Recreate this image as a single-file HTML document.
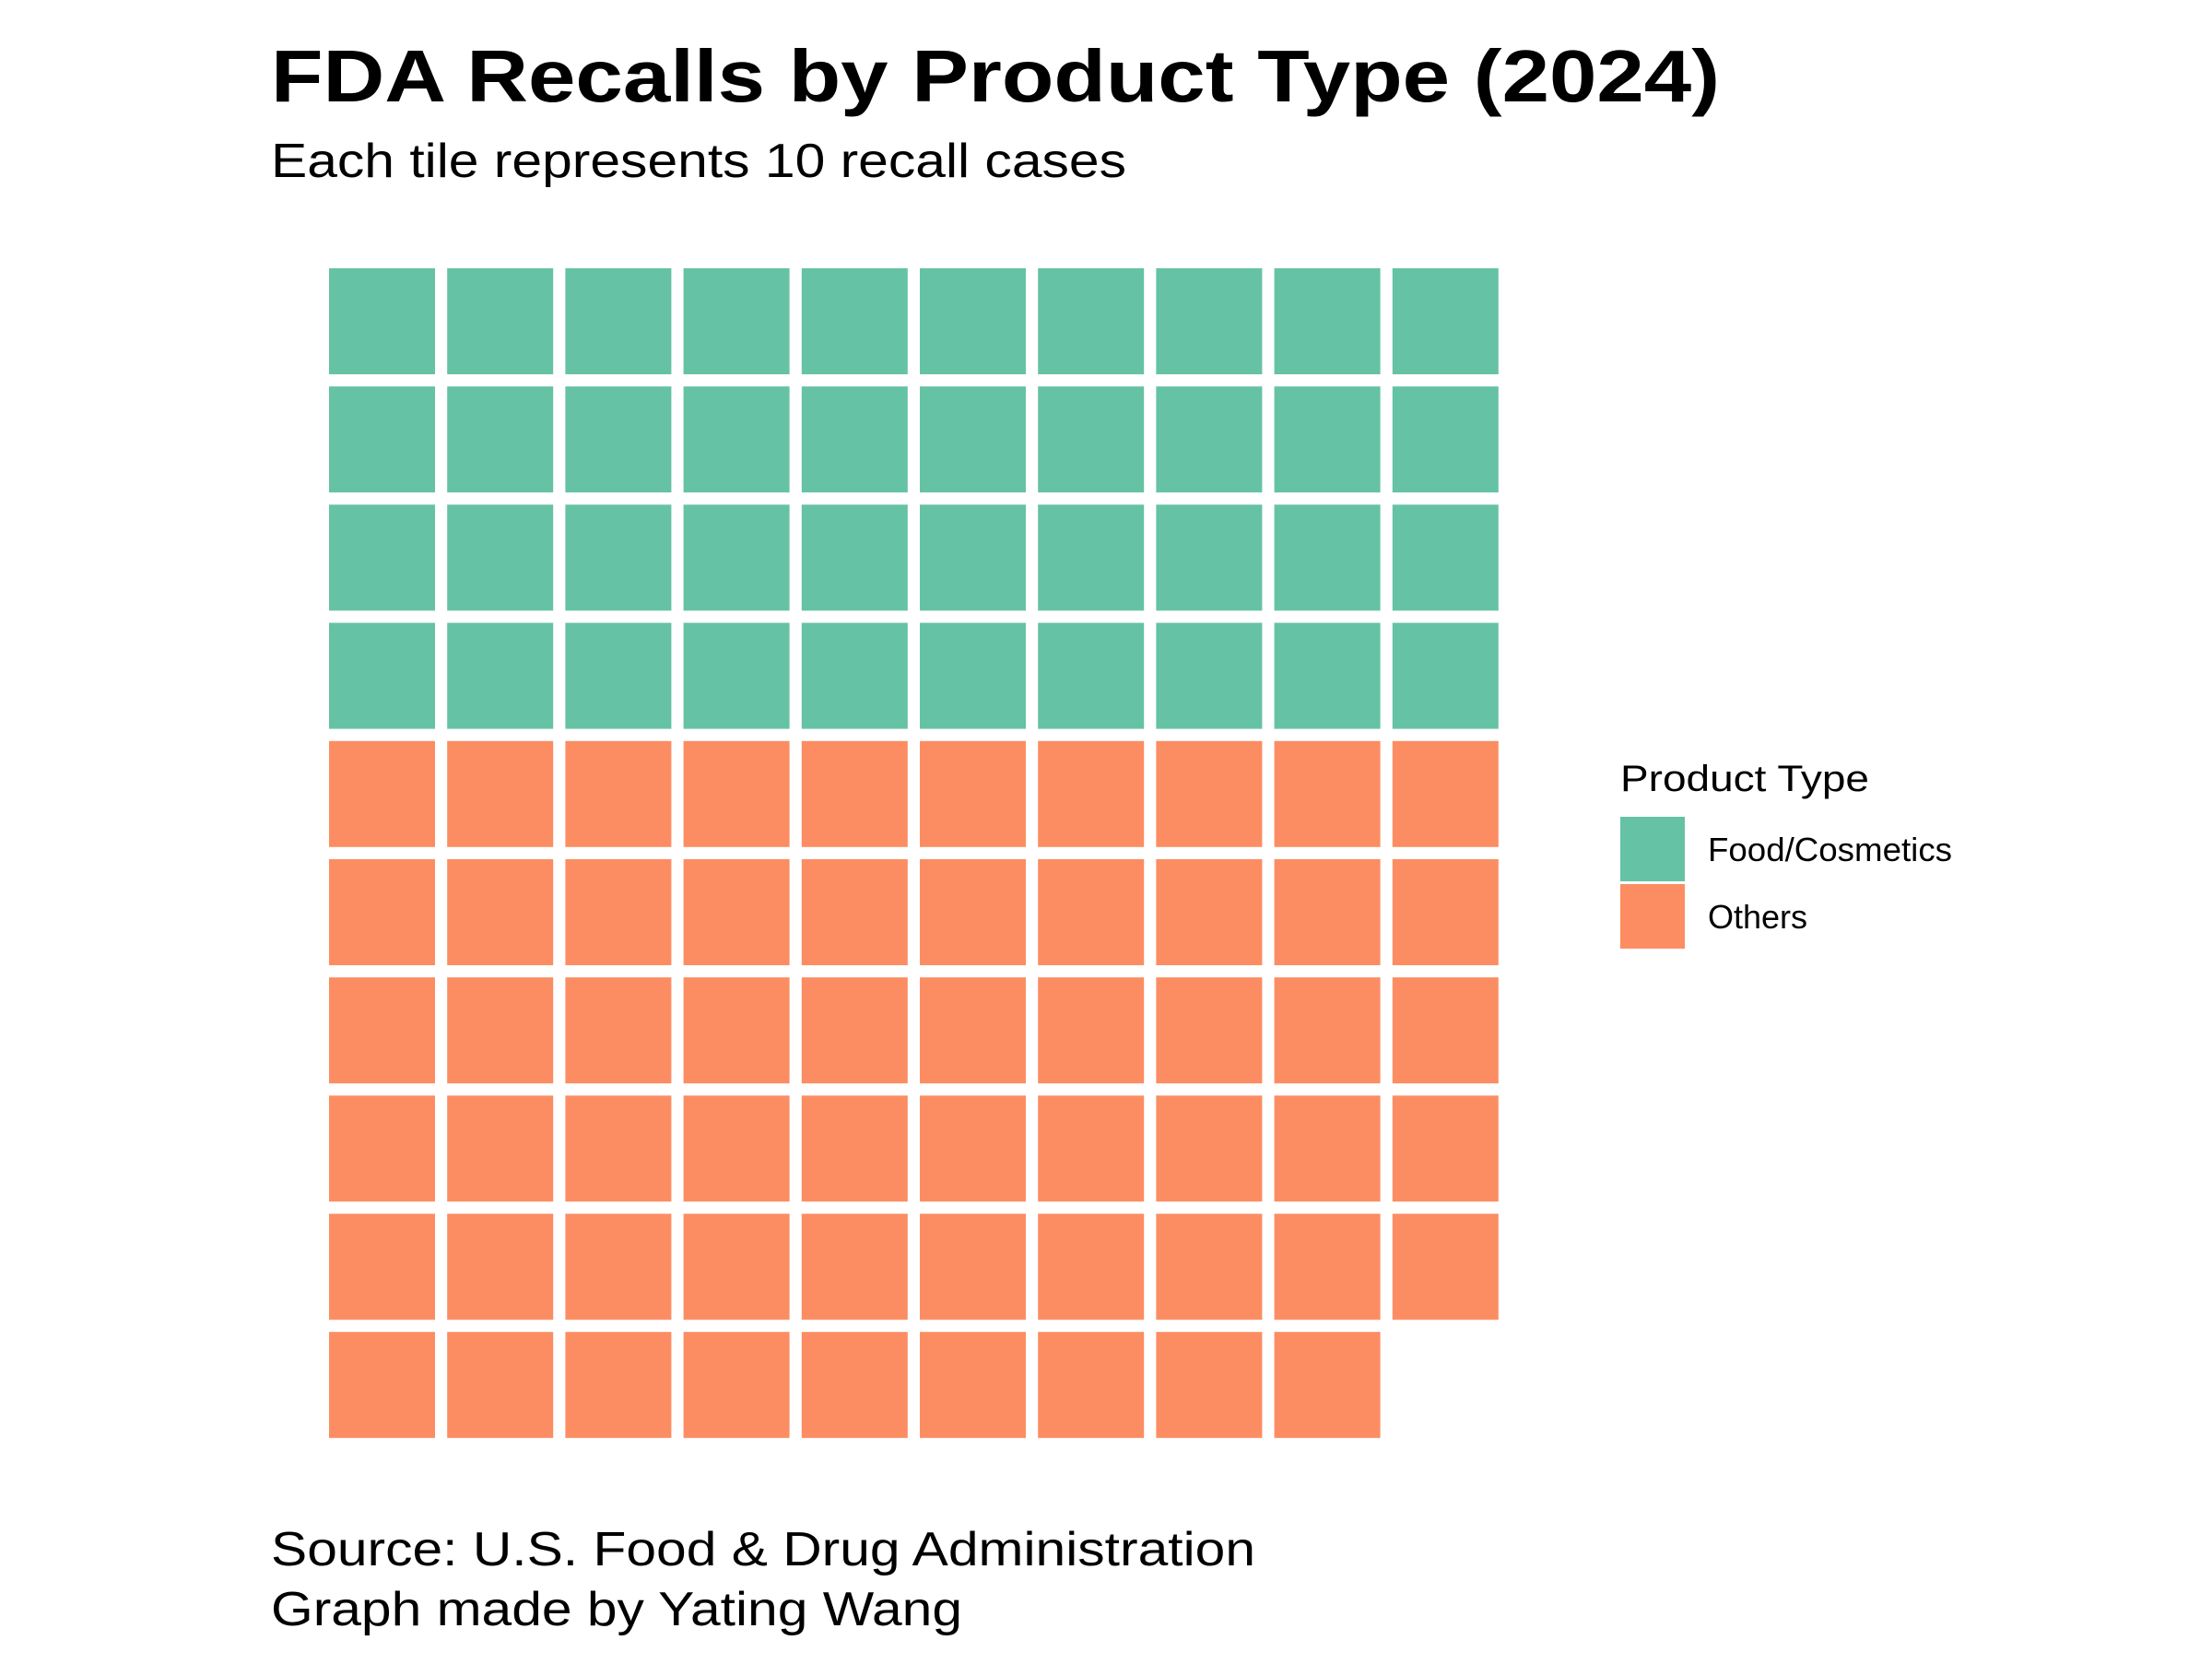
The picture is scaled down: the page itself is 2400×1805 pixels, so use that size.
<!DOCTYPE html>
<html><head><meta charset="utf-8"><style>
html,body{margin:0;padding:0;background:#fff;}
svg text{font-family:"Liberation Sans",Arial,sans-serif;fill:#000;}
</style></head><body>
<svg id="chart" width="2400" height="1800" viewBox="0 0 2400 1800" xmlns="http://www.w3.org/2000/svg">
<rect width="2400" height="1800" fill="#fff"/>
<text x="294" y="110" font-size="80" font-weight="bold" textLength="1572" lengthAdjust="spacingAndGlyphs">FDA Recalls by Product Type (2024)</text>
<text x="294" y="192" font-size="52" textLength="928" lengthAdjust="spacingAndGlyphs">Each tile represents 10 recall cases</text>
<g id="tiles"></g>
<text x="1758" y="858" font-size="40" textLength="270" lengthAdjust="spacingAndGlyphs">Product Type</text>
<g id="legend"></g>
<text x="294" y="1698" font-size="52" textLength="1068" lengthAdjust="spacingAndGlyphs">Source: U.S. Food &amp; Drug Administration</text>
<text x="294" y="1763" font-size="52" textLength="750" lengthAdjust="spacingAndGlyphs">Graph made by Yating Wang</text>
</svg>
<script>
const categories = ["Food/Cosmetics", "Others"];
const tileCounts = [40, 59];
const colors = ["#66c2a5", "#fc8d62"];
const legendLabels = ["Food/Cosmetics", "Others"];

const NS = "http://www.w3.org/2000/svg";
const cols = 10, x0 = 357, y0 = 291, pitch = 128.2, size = 115;
const g = document.getElementById("tiles");
let idx = 0;
categories.forEach((c, ci) => {
  for (let k = 0; k < tileCounts[ci]; k++) {
    const r = Math.floor(idx / cols), col = idx % cols;
    const rect = document.createElementNS(NS, "rect");
    rect.setAttribute("x", x0 + col * pitch);
    rect.setAttribute("y", y0 + r * pitch);
    rect.setAttribute("width", size);
    rect.setAttribute("height", size);
    rect.setAttribute("fill", colors[ci]);
    
    
    g.appendChild(rect);
    idx++;
  }
});
const lg = document.getElementById("legend");
legendLabels.forEach((l, i) => {
  const y = 886 + i * 73;
  const key = document.createElementNS(NS, "rect");
  key.setAttribute("x", 1758); key.setAttribute("y", y);
  key.setAttribute("width", 70); key.setAttribute("height", 70);
  key.setAttribute("fill", colors[i]);
  
  
  lg.appendChild(key);
  const t = document.createElementNS(NS, "text");
  t.setAttribute("x", 1853); t.setAttribute("y", y + 48);
  t.setAttribute("font-size", "36");
  if (i === 0) { t.setAttribute("textLength", "265"); t.setAttribute("lengthAdjust", "spacingAndGlyphs"); }
  t.textContent = l;
  
  
  lg.appendChild(t);
});
</script>
</body></html>
